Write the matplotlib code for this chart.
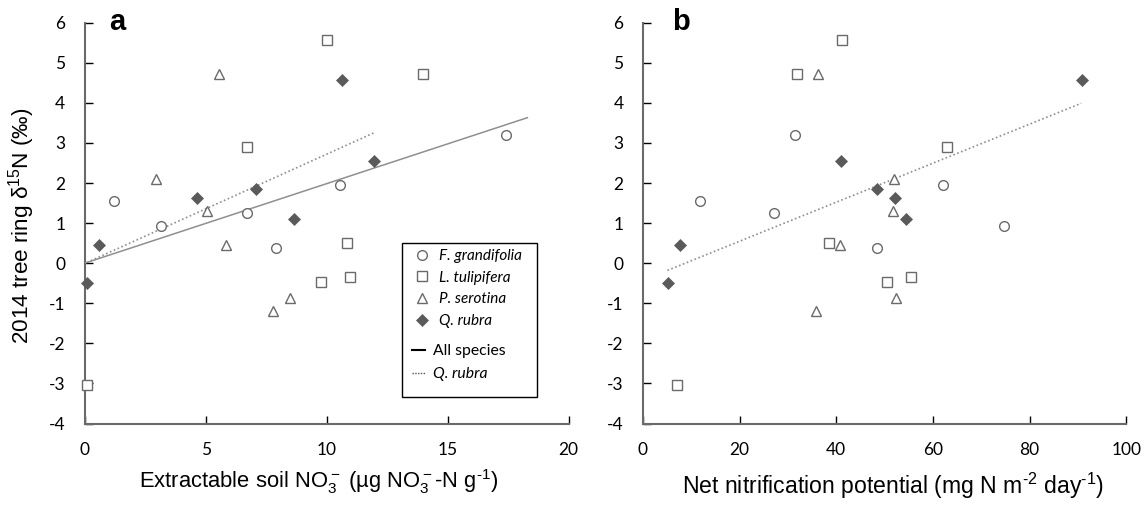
import matplotlib
matplotlib.use('Agg')
import matplotlib.pyplot as plt
from matplotlib.patches import Rectangle
from matplotlib.lines import Line2D

# tree ring d15N (per mil) and site values, one list per species
fg_d15n = [1.56, 0.93, 1.26, 0.37, 1.95, 3.19]
fg_no3 = [1.2, 3.15, 6.7, 7.9, 10.55, 17.4]
fg_nnp = [11.85, 74.7, 27.1, 48.4, 62.0, 31.4]

lt_d15n = [5.56, 2.9, 0.51, 4.73, -0.46, -0.35, -3.05]
lt_no3 = [10.0, 6.7, 10.85, 14.0, 9.75, 10.95, 0.08]
lt_nnp = [41.2, 62.9, 38.4, 31.8, 50.4, 55.4, 7.0]

ps_d15n = [4.71, 2.1, 1.31, 0.46, -0.86, -1.19]
ps_no3 = [5.55, 2.95, 5.05, 5.85, 8.5, 7.8]
ps_nnp = [36.2, 51.9, 51.8, 40.8, 52.3, 35.7]

qr_d15n = [4.56, 1.62, 1.85, 1.1, 0.46, 2.55, -0.49]
qr_no3 = [10.65, 4.65, 7.1, 8.65, 0.6, 11.95, 0.1]
qr_nnp = [90.9, 52.2, 48.4, 54.5, 7.65, 40.9, 5.1]

# regression lines (end points)
all_fit_no3_x = [0.0, 18.3]
all_fit_no3_y = [0.0, 3.63]
qr_fit_no3_x = [0.1, 11.95]
qr_fit_no3_y = [0.02, 3.25]
qr_fit_nnp_x = [5.05, 90.7]
qr_fit_nnp_y = [-0.18, 3.99]

W, H = 1148, 509
plt.rcParams['font.family'] = ['Lato', 'DejaVu Sans']
plt.rcParams['xtick.labelsize'] = 12.5
plt.rcParams['ytick.labelsize'] = 12.5
plt.rcParams['mathtext.fontset'] = 'custom'
plt.rcParams['mathtext.rm'] = 'Liberation Sans'
plt.rcParams['mathtext.it'] = 'Liberation Sans:italic'
plt.rcParams['axes.unicode_minus'] = False
fig = plt.figure(figsize=(W / 100, H / 100), dpi=100)

edge = '#6a6a6a'
fill = '#5a5a5a'
linec = '#8f8f8f'

def px_axes(left, right, top, bottom):
    return fig.add_axes([left / W, 1 - bottom / H, (right - left) / W, (bottom - top) / H])

ax_a = px_axes(84.7, 568.5, 22.7, 423.5)
ax_b = px_axes(643.0, 1126.3, 22.7, 423.5)

def scatter_species(ax, fg_x, lt_x, ps_x, qr_x):
    ax.plot(fg_x, fg_d15n, 'o', ms=7, mfc='white', mec=edge, mew=1.0, clip_on=False, zorder=4)
    ax.plot(lt_x, lt_d15n, 's', ms=6.5, mfc='white', mec=edge, mew=1.0, clip_on=False, zorder=4)
    ax.plot(ps_x, ps_d15n, '^', ms=7.5, mfc='white', mec=edge, mew=1.0, clip_on=False, zorder=4)
    ax.plot(qr_x, qr_d15n, 'D', ms=6, mfc=fill, mec=fill, mew=0.5, clip_on=False, zorder=4)

def style(ax, xmax, xticks):
    ax.set_xlim(0, xmax)
    ax.set_ylim(-4, 6)
    ax.set_xticks(xticks)
    ax.set_yticks(range(-4, 7))
    for s in ['top', 'right']:
        ax.spines[s].set_visible(False)
    for s in ['left', 'bottom']:
        ax.spines[s].set_color(edge)
        ax.spines[s].set_linewidth(1.5)
    ax.tick_params(axis='both', direction='in', length=6, width=1, color='black')
    ax.tick_params(axis='y', pad=14)
    ax.tick_params(axis='x', pad=13)

# panel a
scatter_species(ax_a, fg_no3, lt_no3, ps_no3, qr_no3)
ax_a.plot(all_fit_no3_x, all_fit_no3_y, '-', color=linec, lw=1.1, zorder=3)
ax_a.plot(qr_fit_no3_x, qr_fit_no3_y, color=linec, lw=1.2, ls=(0, (1, 1.5)), zorder=3)
style(ax_a, 20, [0, 5, 10, 15, 20])

# panel b
scatter_species(ax_b, fg_nnp, lt_nnp, ps_nnp, qr_nnp)
ax_b.plot(qr_fit_nnp_x, qr_fit_nnp_y, color=linec, lw=1.2, ls=(0, (1, 1.5)), zorder=3)
style(ax_b, 100, [0, 20, 40, 60, 80, 100])

# axis labels
fig.text(22 / W, 1 - 226 / H, r'2014 tree ring δ$^{\text{15}}$N (‰)', rotation=90, ha='center', va='center',
         family='Liberation Sans', fontsize=16.2)
fig.text(319 / W, 1 - 487.5 / H, r'Extractable soil NO$_3^-$ (µg NO$_3^-$-N g$^{\text{-1}}$)', ha='center', va='baseline',
         family='Liberation Sans', fontsize=15.8)
fig.text(893 / W, 1 - 494 / H, r'Net nitrification potential (mg N m$^{\text{-2}}$ day$^{\text{-1}}$)', ha='center', va='baseline',
         family='Liberation Sans', fontsize=16.6)

fig.text(109 / W, 1 - 30 / H, 'a', fontsize=21, fontweight='bold', family='Liberation Sans', ha='left', va='baseline')
fig.text(672 / W, 1 - 30 / H, 'b', fontsize=21, fontweight='bold', family='Liberation Sans', ha='left', va='baseline')

# legend in panel a: markers, then lines, inside one frame
def ax_frac(px, py):
    return ((px - 84.7) / (568.5 - 84.7), (423.5 - py) / (423.5 - 22.7))

mk_handles = [
    Line2D([], [], ls='none', marker='o', ms=7, mfc='white', mec=edge, mew=1.0),
    Line2D([], [], ls='none', marker='s', ms=6.5, mfc='white', mec=edge, mew=1.0),
    Line2D([], [], ls='none', marker='^', ms=7.5, mfc='white', mec=edge, mew=1.0),
    Line2D([], [], ls='none', marker='D', ms=6, mfc=fill, mec=fill, mew=0.5),
]
leg1 = ax_a.legend(mk_handles, ['F. grandifolia', 'L. tulipifera', 'P. serotina', 'Q. rubra'],
                   loc='upper left', bbox_to_anchor=ax_frac(414, 249), frameon=False,
                   borderpad=0, borderaxespad=0, handlelength=1.0, handletextpad=0.65,
                   labelspacing=0.5, prop=dict(family='Lato', style='italic', size=11))
ax_a.add_artist(leg1)

ln_handles = [
    Line2D([], [], color='black', lw=1.5),
    Line2D([], [], color='#555555', lw=1.0, ls=(0, (1, 1))),
]
leg2 = ax_a.legend(ln_handles, ['All species', 'Q. rubra'],
                   loc='upper left', bbox_to_anchor=ax_frac(412, 344), frameon=False,
                   borderpad=0, borderaxespad=0, handlelength=0.85, handletextpad=0.5,
                   labelspacing=0.6, prop=dict(family='Lato', size=11.3))
leg2.get_texts()[1].set_style('italic')

x0, y0 = ax_frac(402.3, 396.7)
x1, y1 = ax_frac(537.3, 243.3)
ax_a.add_patch(Rectangle((x0, y0), x1 - x0, y1 - y0, transform=ax_a.transAxes,
                         fill=False, ec='black', lw=1.0, clip_on=False, zorder=5))

fig.savefig('out.png', dpi=100)
